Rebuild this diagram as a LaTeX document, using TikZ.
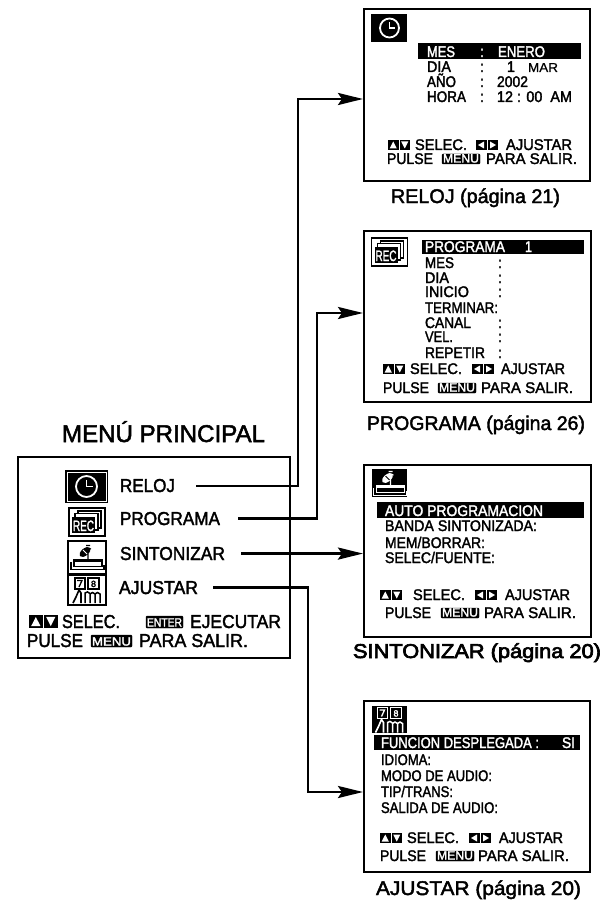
\documentclass[tikz,border=0pt]{standalone}
\usepackage{fontspec}
\usepackage{graphicx}
\usetikzlibrary{arrows.meta}
\newfontfamily\tf[FakeBold=2.1]{Liberation Sans}
\newfontfamily\tfb[FakeBold=3.2]{Liberation Sans}
\newfontfamily\tfl[FakeBold=0.5]{Liberation Sans}
\newcounter{txc}
\newcommand\fitw[2]{\resizebox{#1pt}{\height}{#2}}
% \tx[opts]{x}{baseline y}{size}{width}{text}
\newcommand\tx[6][]{\stepcounter{txc}\node[txt,name=t\thetxc,#1] at (#2,#3) {\fontsize{\fpeval{#4*1.1}}{20}\selectfont\tf\fitw{#5}{#6}};}
\newcommand\lbx[5][]{\stepcounter{txc}\draw[black,fill=black,rounded corners=1pt] (#2,#3) rectangle (#4,#5); \node[txt,white,name=t\thetxc] at (#2+1,#5-1.5) {\fontsize{12}{12}\selectfont\tf\fitw{\the\numexpr#4-#2-2\relax}{#1}};}
\newcommand\ud[3]{% x, baseline, scale
  \begin{scope}[shift={(#1,#2)},scale=#3]
    \fill (0,-10) rectangle (10.5,0);\fill[white] (5.25,-8.5)--(8.8,-1.5)--(1.7,-1.5)--cycle;
    \fill (11.5,-10) rectangle (22,0);\fill[white] (16.75,-1.5)--(20.3,-8.5)--(13.2,-8.5)--cycle;
  \end{scope}}
\newcommand\lr[2]{% x, baseline
  \begin{scope}[shift={(#1,#2)}]
    \fill (0,-10) rectangle (10.5,0);\fill[white] (2,-5)--(8,-8.5)--(8,-1.5)--cycle;
    \fill (11.5,-10) rectangle (22,0);\fill[white] (20,-5)--(14,-8.5)--(14,-1.5)--cycle;
  \end{scope}}
\newcommand\clockicon[3]{% cx, cy, r
  \begin{scope}[shift={(#1,#2)}]
    \draw[white,line width=1.8pt] (0,0) circle (#3);
    \draw[white,line width=1.5pt] (0,-#3*0.62)--(0,0)--(#3*0.58,0);
  \end{scope}}
\newcommand\recicon[2]{% cx, cy : outlined
  \begin{scope}[shift={(#1,#2)}]
    \draw[line width=1.5pt,fill=white] (-18,-14) rectangle (18,14);
    \draw[line width=1.1pt] (-9,-11) rectangle (14,6);
    \draw[line width=1.1pt,fill=white] (-12,-8.5) rectangle (11,8);
    \fill (-15,-5) rectangle (8,11);
    \stepcounter{txc}\node[txt,white,name=t\thetxc] at (-14,9) {\fontsize{15}{15}\selectfont\tf\fitw{21}{REC}};
  \end{scope}}
\newcommand\dishicon[4]{% cx,cy,fg,bg
  \begin{scope}[shift={(#1,#2)}]
    \fill[#3,rotate around={40:(-2,-5)}] (-2,-5) ellipse (6.5 and 3.6);
    \draw[#4,line width=0.8pt] (-4,-7)--(0,-3);
    \draw[#3,line width=1.2pt] (-1,-11.5)--(3,-11.5) (0,-9)--(4,-8) (1,-3)--(1,3);
    \fill[#3] (-13,2.5) rectangle (15,5);
    \draw[#3,line width=1.5pt] (-13,3) rectangle (15,9.5);
    \draw[#3,line width=1.5pt] (-16,5)--(-16,12.5)--(17,12.5)--(17,8);
  \end{scope}}
\newcommand\ajicon[4]{% cx,cy,fg,bg
  \begin{scope}[shift={(#1,#2)}]
    \draw[#3,line width=1.2pt] (-12,-12) rectangle (-2,-1);
    \draw[#3,line width=1.3pt] (-10,-9.5)--(-5,-9.5)--(-8,-3);
    \draw[#3,line width=1.2pt] (1,-12) rectangle (12,-1);
    \stepcounter{txc}\node[txt,#3,name=t\thetxc] at (4,-3) {\fontsize{9}{9}\selectfont\tf 8};
    \draw[#3,line width=1.6pt] (-14,13)--(-11,7)--(-8,0)--(-6,3)--(-6,13);
    \draw[#3,line width=1.5pt] (-2,13)--(-2,3) .. controls (-1,1.5) and (2,1.5) .. (3,3.5)--(3,13) (3,4) .. controls (4,2) and (7,2) .. (8,4)--(8,13) (8,4) .. controls (9,2) and (12,2) .. (13,4)--(13,13);
  \end{scope}}
\tikzset{
  txt/.style={anchor=base west,inner sep=0pt,outer sep=0pt},
  screen/.style={draw=black,line width=2pt,fill=white,inner sep=0pt,anchor=north west},
  conn/.style={draw=black,line width=2.8pt,-{Stealth[length=25pt,width=12pt,inset=4pt]}},
  bar/.style={fill=black}
}
\begin{document}
\begin{tikzpicture}[x=1pt,y=-1pt]
\useasboundingbox (0,0) rectangle (609,904);
\fill[white] (0,0) rectangle (609,904);
% boxes
\node[screen,minimum width=272pt,minimum height=201pt] (boxMain) at (17,456) {};
\node[screen,minimum width=226pt,minimum height=172pt] (boxReloj) at (363,8) {};
\node[screen,minimum width=227pt,minimum height=171pt] (boxProg) at (363,230) {};
\node[screen,minimum width=227pt,minimum height=172pt] (boxSint) at (363,464) {};
\node[screen,minimum width=226pt,minimum height=171pt] (boxAj) at (363,700) {};
% main
\tx{62}{442}{22}{203}{MENÚ PRINCIPAL}
\fill (65,470) rectangle (108,503);
\draw[white,line width=1pt] (67,472) rectangle (106,501);
\clockicon{86.5}{486.5}{10.5}
\recicon{87}{522}
\draw[line width=1.5pt] (68,541) rectangle (106,574);
\dishicon{87}{557}{black}{white}
\draw[line width=1.5pt] (68,575) rectangle (106,605);
\ajicon{87}{590}{black}{white}
\tx[name=lblReloj]{120}{492}{17}{55}{RELOJ}
\tx[name=lblProg]{120}{525}{17}{100}{PROGRAMA}
\tx[name=lblSint]{120}{560}{17}{105}{SINTONIZAR}
\tx[name=lblAj]{119}{594}{17}{79}{AJUSTAR}
\ud{29}{628}{1.3}
\tx{62}{628}{17}{58}{SELEC.}
\lbx[ENTER]{146}{616}{183}{628}
\tx{190}{628}{17}{91}{EJECUTAR}
\tx{27}{647}{17}{56}{PULSE}
\lbx[MENU]{91}{635}{132}{647}
\tx{139}{647}{17}{109}{PARA SALIR.}
% reloj
\fill (371,14) rectangle (407,42);
\clockicon{389.5}{28}{9.5}
\fill[bar] (418,43) rectangle (581,59);
\tx[white]{427}{57}{14}{28}{MES}
\tx[white]{480}{57}{14}{4}{:}
\tx[white]{498}{57}{14}{47}{ENERO}
\tx{427}{72}{14}{24}{DIA}
\tx{480}{72}{14}{4}{:}
\tx{507}{72}{14}{8}{1}
\node[txt] (tMar) at (528,72) {\fontsize{13}{13}\selectfont\tfl\fitw{30}{MAR}};
\tx{427}{87}{14}{29}{AÑO}
\tx{480}{87}{14}{4}{:}
\tx{497}{87}{14}{31}{2002}
\tx{427}{102}{14}{39}{HORA}
\tx{480}{102}{14}{4}{:}
\tx{497}{102}{14}{75}{12 : 00~~AM}
\ud{388}{150}{1}
\tx{415}{150}{14}{52}{SELEC.}
\lr{476}{150}
\tx{506}{150}{14}{66}{AJUSTAR}
\tx{387}{164}{14}{46}{PULSE}
\lbx[MENU]{442}{154}{480}{164}
\tx{486}{164}{14}{91}{PARA SALIR.}
\tx{391}{203}{18}{169}{RELOJ (página 21)}
% programa
\recicon{389.5}{252}
\fill[bar] (422,240) rectangle (584,254);
\tx[white]{425}{252}{14}{80}{PROGRAMA}
\tx[white]{525}{252}{14}{7}{1}
\tx{425}{268}{14}{29}{MES}
\tx{425}{283}{14}{24}{DIA}
\tx{425}{297}{14}{44}{INICIO}
\tx{425}{313}{14}{73}{TERMINAR:}
\tx{425}{328}{14}{46}{CANAL}
\tx{425}{342}{14}{28}{VEL.}
\tx{425}{358}{14}{60}{REPETIR}
\foreach \yy in {268,283,297,328,342,358} {\tx{498}{\yy}{14}{4}{:}}
\ud{383}{374}{1}
\tx{410}{374}{14}{52}{SELEC.}
\lr{472}{374}
\tx{501}{374}{14}{64}{AJUSTAR}
\tx{383}{393}{14}{46}{PULSE}
\lbx[MENU]{438}{383}{476}{393}
\tx{481}{393}{14}{92}{PARA SALIR.}
\tx{367}{430}{18}{218}{PROGRAMA (página 26)}
% sintonizar
\fill (372,469) rectangle (407,497);
\dishicon{389.5}{483}{white}{black}
\fill[bar] (377,502) rectangle (584,518);
\tx[white]{385}{516}{14}{158}{AUTO PROGRAMACION}
\tx{385}{531}{14}{152}{BANDA SINTONIZADA:}
\tx{385}{548}{14}{100}{MEM/BORRAR:}
\tx{385}{563}{14}{110}{SELEC/FUENTE:}
\ud{380}{600}{1}
\tx{413}{600}{14}{52}{SELEC.}
\lr{475}{600}
\tx{505}{600}{14}{65}{AJUSTAR}
\tx{385}{618}{14}{46}{PULSE}
\lbx[MENU]{441}{608}{479}{618}
\tx{484}{618}{14}{92}{PARA SALIR.}
\stepcounter{txc}\node[txt] (capSint) at (353,658) {\fontsize{20}{20}\selectfont\tfb\fitw{248}{SINTONIZAR (página 20)}};
% ajustar
\fill (372,706) rectangle (407,733);
\ajicon{389.5}{719.5}{white}{black}
\fill[bar] (374,735) rectangle (580,750);
\tx[white]{381}{748}{14}{158}{FUNCION DESPLEGADA :}
\tx[white]{562}{748}{14}{13}{SI}
\tx{381}{765}{14}{50}{IDIOMA:}
\tx{381}{781}{14}{111}{MODO DE AUDIO:}
\tx{381}{797}{14}{72}{TIP/TRANS:}
\tx{381}{813}{14}{117}{SALIDA DE AUDIO:}
\ud{380}{843}{1}
\tx{407}{843}{14}{52}{SELEC.}
\lr{469}{843}
\tx{499}{843}{14}{64}{AJUSTAR}
\tx{380}{861}{14}{46}{PULSE}
\lbx[MENU]{436}{851}{474}{861}
\tx{478}{861}{14}{91}{PARA SALIR.}
\tx{376}{895}{18}{205}{AJUSTAR (página 20)}
% connectors
\coordinate (relojStart) at ([xshift=21pt,yshift=-0.5pt]lblReloj.east);
\coordinate (relojUp) at (298,99);
\draw[conn] (relojStart) -| (relojUp) -- (relojUp -| boxReloj.west);
\coordinate (progStart) at ([xshift=18pt]lblProg.east);
\coordinate (progUp) at (317,313);
\draw[conn] (progStart) -| (progUp) -- (progUp -| boxProg.west);
\coordinate (sintStart) at ([xshift=16pt]lblSint.east);
\draw[conn] (sintStart) -- (sintStart -| boxSint.west);
\coordinate (ajStart) at ([xshift=15pt]lblAj.east);
\coordinate (ajDown) at (308,792);
\draw[conn] (ajStart) -| (ajDown) -- (ajDown -| boxAj.west);
\end{tikzpicture}
\end{document}
